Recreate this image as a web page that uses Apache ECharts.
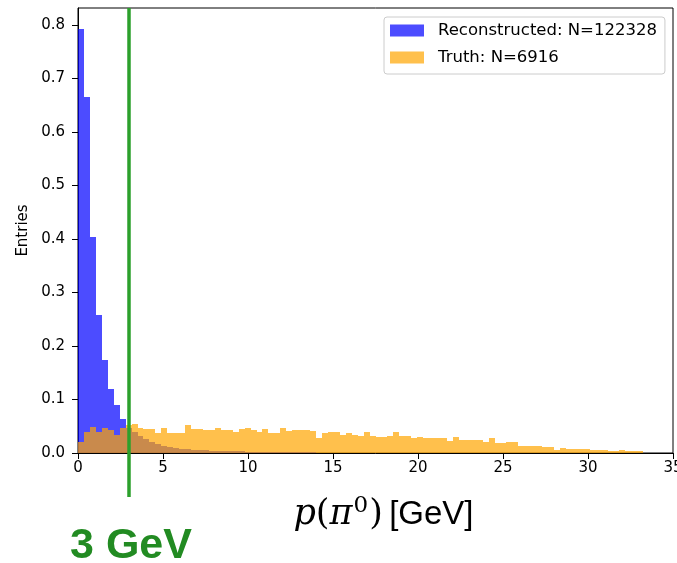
<!DOCTYPE html>
<html>
<head>
<meta charset="utf-8">
<title>Neutral pion momentum</title>
<script src="https://cdn.jsdelivr.net/npm/echarts@6/dist/echarts.min.js"></script>
<style>
  html, body { margin: 0; padding: 0; background: #fff; }
  #chart { width: 677px; height: 563px; }
</style>
</head>
<body>
<div id="chart"></div>
<script>
// Histogram binning: 100 equal bins over 0–35 GeV
const binLow = 0;
const binHigh = 35;
const binCount = 100;

// Normalised entries per bin, reconstructed pi0 candidates
const recoValues = [
  0.792, 0.666, 0.403, 0.257, 0.174, 0.119, 0.090, 0.064, 0.047, 0.040,
  0.032, 0.026, 0.021, 0.017, 0.013, 0.011, 0.009, 0.008, 0.007, 0.006,
  0.005, 0.005, 0.004, 0.004, 0.003, 0.003, 0.003, 0.003, 0.002, 0.002,
  0.002, 0.002, 0.002, 0.001, 0.002, 0.002, 0.001, 0.001, 0.001, 0.001,
  0.0005, 0.0005, 0.0005, 0.0005, 0.0005, 0, 0, 0, 0, 0,
  0, 0, 0, 0, 0, 0, 0, 0, 0, 0,
  0, 0, 0, 0, 0, 0, 0, 0, 0, 0,
  0, 0, 0, 0, 0, 0, 0, 0, 0, 0,
  0, 0, 0, 0, 0, 0, 0, 0, 0, 0,
  0, 0, 0, 0, 0, 0, 0, 0, 0, 0
];

// Normalised entries per bin, generator-level (truth) pi0s
const truthValues = [
  0.020, 0.039, 0.049, 0.039, 0.047, 0.043, 0.034, 0.047, 0.0525, 0.054,
  0.047, 0.045, 0.045, 0.0375, 0.047, 0.0375, 0.0375, 0.0375, 0.0525, 0.045,
  0.044, 0.043, 0.043, 0.047, 0.043, 0.043, 0.040, 0.045, 0.0475, 0.0437,
  0.040, 0.045, 0.0368, 0.0375, 0.047, 0.0405, 0.043, 0.043, 0.043, 0.0405,
  0.0274, 0.0368, 0.0387, 0.0387, 0.0343, 0.0368, 0.0343, 0.0312, 0.0387, 0.0325,
  0.0293, 0.0293, 0.0312, 0.0387, 0.0312, 0.0312, 0.0274, 0.0293, 0.0274, 0.0274,
  0.0274, 0.0274, 0.0228, 0.0293, 0.025, 0.025, 0.025, 0.025, 0.0206, 0.0272,
  0.0188, 0.0188, 0.0206, 0.0206, 0.0140, 0.0140, 0.0140, 0.0140, 0.0115, 0.0115,
  0.0055, 0.0097, 0.0072, 0.0072, 0.0072, 0.0080, 0.0052, 0.0050, 0.0050, 0.0030,
  0.0030, 0.0052, 0.0030, 0.0030, 0.0030, 0, 0, 0, 0, 0
];

const seriesNames = ['Reconstructed: N=122328', 'Truth: N=6916'];

// Momentum threshold marked on the plot
const cutValue = 3;

// Axis ticks
const xTicks = [0, 5, 10, 15, 20, 25, 30, 35];
const yTicks = [0, 0.1, 0.2, 0.3, 0.4, 0.5, 0.6, 0.7, 0.8];

const binWidth = (binHigh - binLow) / binCount;
function toBins(values) {
  return values.map((v, i) => [binLow + i * binWidth, binLow + (i + 1) * binWidth, v]);
}

// Headroom above the tallest bin, like an auto-scaled histogram
const yMax = Math.max(...recoValues, ...truthValues) * 1.05;

function histRenderer(fill) {
  return function (params, api) {
    const base = api.coord([api.value(0), 0]);
    const top = api.coord([api.value(1), api.value(2)]);
    const x0 = Math.round(base[0]);
    const x1 = Math.round(top[0]);
    const y0 = Math.round(base[1]);
    const y1 = Math.round(top[1]);
    if (y0 - y1 <= 0) return null;
    return {
      type: 'rect',
      shape: { x: x0, y: y1, width: x1 - x0, height: y0 - y1 },
      style: { fill: fill }
    };
  };
}

const blue = 'rgba(0,0,255,0.7)';
const orange = 'rgba(255,165,0,0.7)';
const cutGreen = '#2ca02c';
const cutTextGreen = '#228b22';

const chart = echarts.init(document.getElementById('chart'), null, { renderer: 'canvas' });

chart.setOption({
  animation: false,
  backgroundColor: '#fff',
  textStyle: { fontFamily: 'DejaVu Sans' },
  grid: {
    left: 78, right: 4, top: 8, bottom: 110,
    show: true, borderColor: '#000', borderWidth: 1,
    containLabel: false,
    outerBoundsMode: 'none'
  },
  legend: {
    orient: 'vertical',
    left: 384, top: 17,
    padding: [5, 8, 8, 6],
    itemWidth: 34, itemHeight: 12, itemGap: 10,
    backgroundColor: 'rgba(255,255,255,0.8)',
    borderColor: '#cccccc', borderWidth: 1, borderRadius: 3,
    textStyle: { fontFamily: 'DejaVu Sans', fontSize: 16.5, color: '#000', padding: [0, 0, 0, 9] },
    data: [
      { name: seriesNames[0], icon: 'rect', itemStyle: { color: blue } },
      { name: seriesNames[1], icon: 'rect', itemStyle: { color: orange } }
    ]
  },
  xAxis: {
    type: 'value',
    min: binLow, max: binHigh, interval: 5,
    splitLine: { show: false },
    axisLine: { show: true, onZero: false, lineStyle: { color: '#000', width: 1 } },
    axisTick: { show: true, length: 6, lineStyle: { color: '#000' }, customValues: xTicks },
    axisLabel: {
      color: '#000', fontFamily: 'DejaVu Sans', fontSize: 15, margin: 8,
      customValues: xTicks,
      formatter: v => String(v)
    },
    name: '{m|p}{r|(}{m|π}{s|0}{r|)}{g| }{t|[GeV]}',
    nameLocation: 'middle',
    nameGap: 42,
    nameTextStyle: {
      color: '#000',
      verticalAlign: 'top',
      padding: [0, 0, 0, 16],
      rich: {
        m: { fontFamily: 'DejaVu Serif', fontStyle: 'italic', fontSize: 35, color: '#000' },
        r: { fontFamily: 'DejaVu Serif', fontSize: 35, color: '#000' },
        s: { fontFamily: 'DejaVu Serif', fontSize: 23, color: '#000', verticalAlign: 'top', padding: [0, 1, 16, 1] },
        g: { fontFamily: 'DejaVu Sans', fontSize: 20 },
        t: { fontFamily: 'Liberation Sans', fontSize: 33, color: '#000' }
      }
    }
  },
  yAxis: {
    type: 'value',
    min: 0, max: yMax,
    splitLine: { show: false },
    axisLine: { show: true, lineStyle: { color: '#000', width: 1 } },
    axisTick: { show: true, length: 6, lineStyle: { color: '#000' }, customValues: yTicks },
    axisLabel: {
      color: '#000', fontFamily: 'DejaVu Sans', fontSize: 15, margin: 13,
      customValues: yTicks,
      formatter: v => v.toFixed(1)
    },
    name: 'Entries',
    nameLocation: 'middle',
    nameGap: 47,
    nameTextStyle: { color: '#000', fontFamily: 'DejaVu Sans', fontSize: 15 }
  },
  series: [
    {
      name: seriesNames[0],
      type: 'custom',
      itemStyle: { color: blue },
      renderItem: histRenderer(blue),
      encode: { x: [0, 1], y: 2 },
      data: toBins(recoValues)
    },
    {
      name: seriesNames[1],
      type: 'custom',
      itemStyle: { color: orange },
      renderItem: histRenderer(orange),
      encode: { x: [0, 1], y: 2 },
      data: toBins(truthValues)
    },
    {
      name: 'cut',
      type: 'custom',
      clip: false,
      silent: true,
      z: 5,
      renderItem: function (params, api) {
        const top = api.coord([api.value(0), yMax]);
        const bottom = api.coord([api.value(0), 0]);
        return {
          type: 'group',
          children: [
            {
              type: 'line',
              shape: { x1: top[0], y1: top[1], x2: bottom[0], y2: bottom[1] + 44 },
              style: { stroke: cutGreen, lineWidth: 3.5 }
            },
            {
              type: 'text',
              x: top[0] + 2,
              y: bottom[1] + 93,
              style: {
                text: api.value(0) + ' GeV',
                fill: cutTextGreen,
                font: 'bold 43px "Liberation Sans", Arial, sans-serif',
                align: 'center',
                verticalAlign: 'middle'
              }
            }
          ]
        };
      },
      data: [[cutValue]]
    }
  ]
});
</script>
</body>
</html>
